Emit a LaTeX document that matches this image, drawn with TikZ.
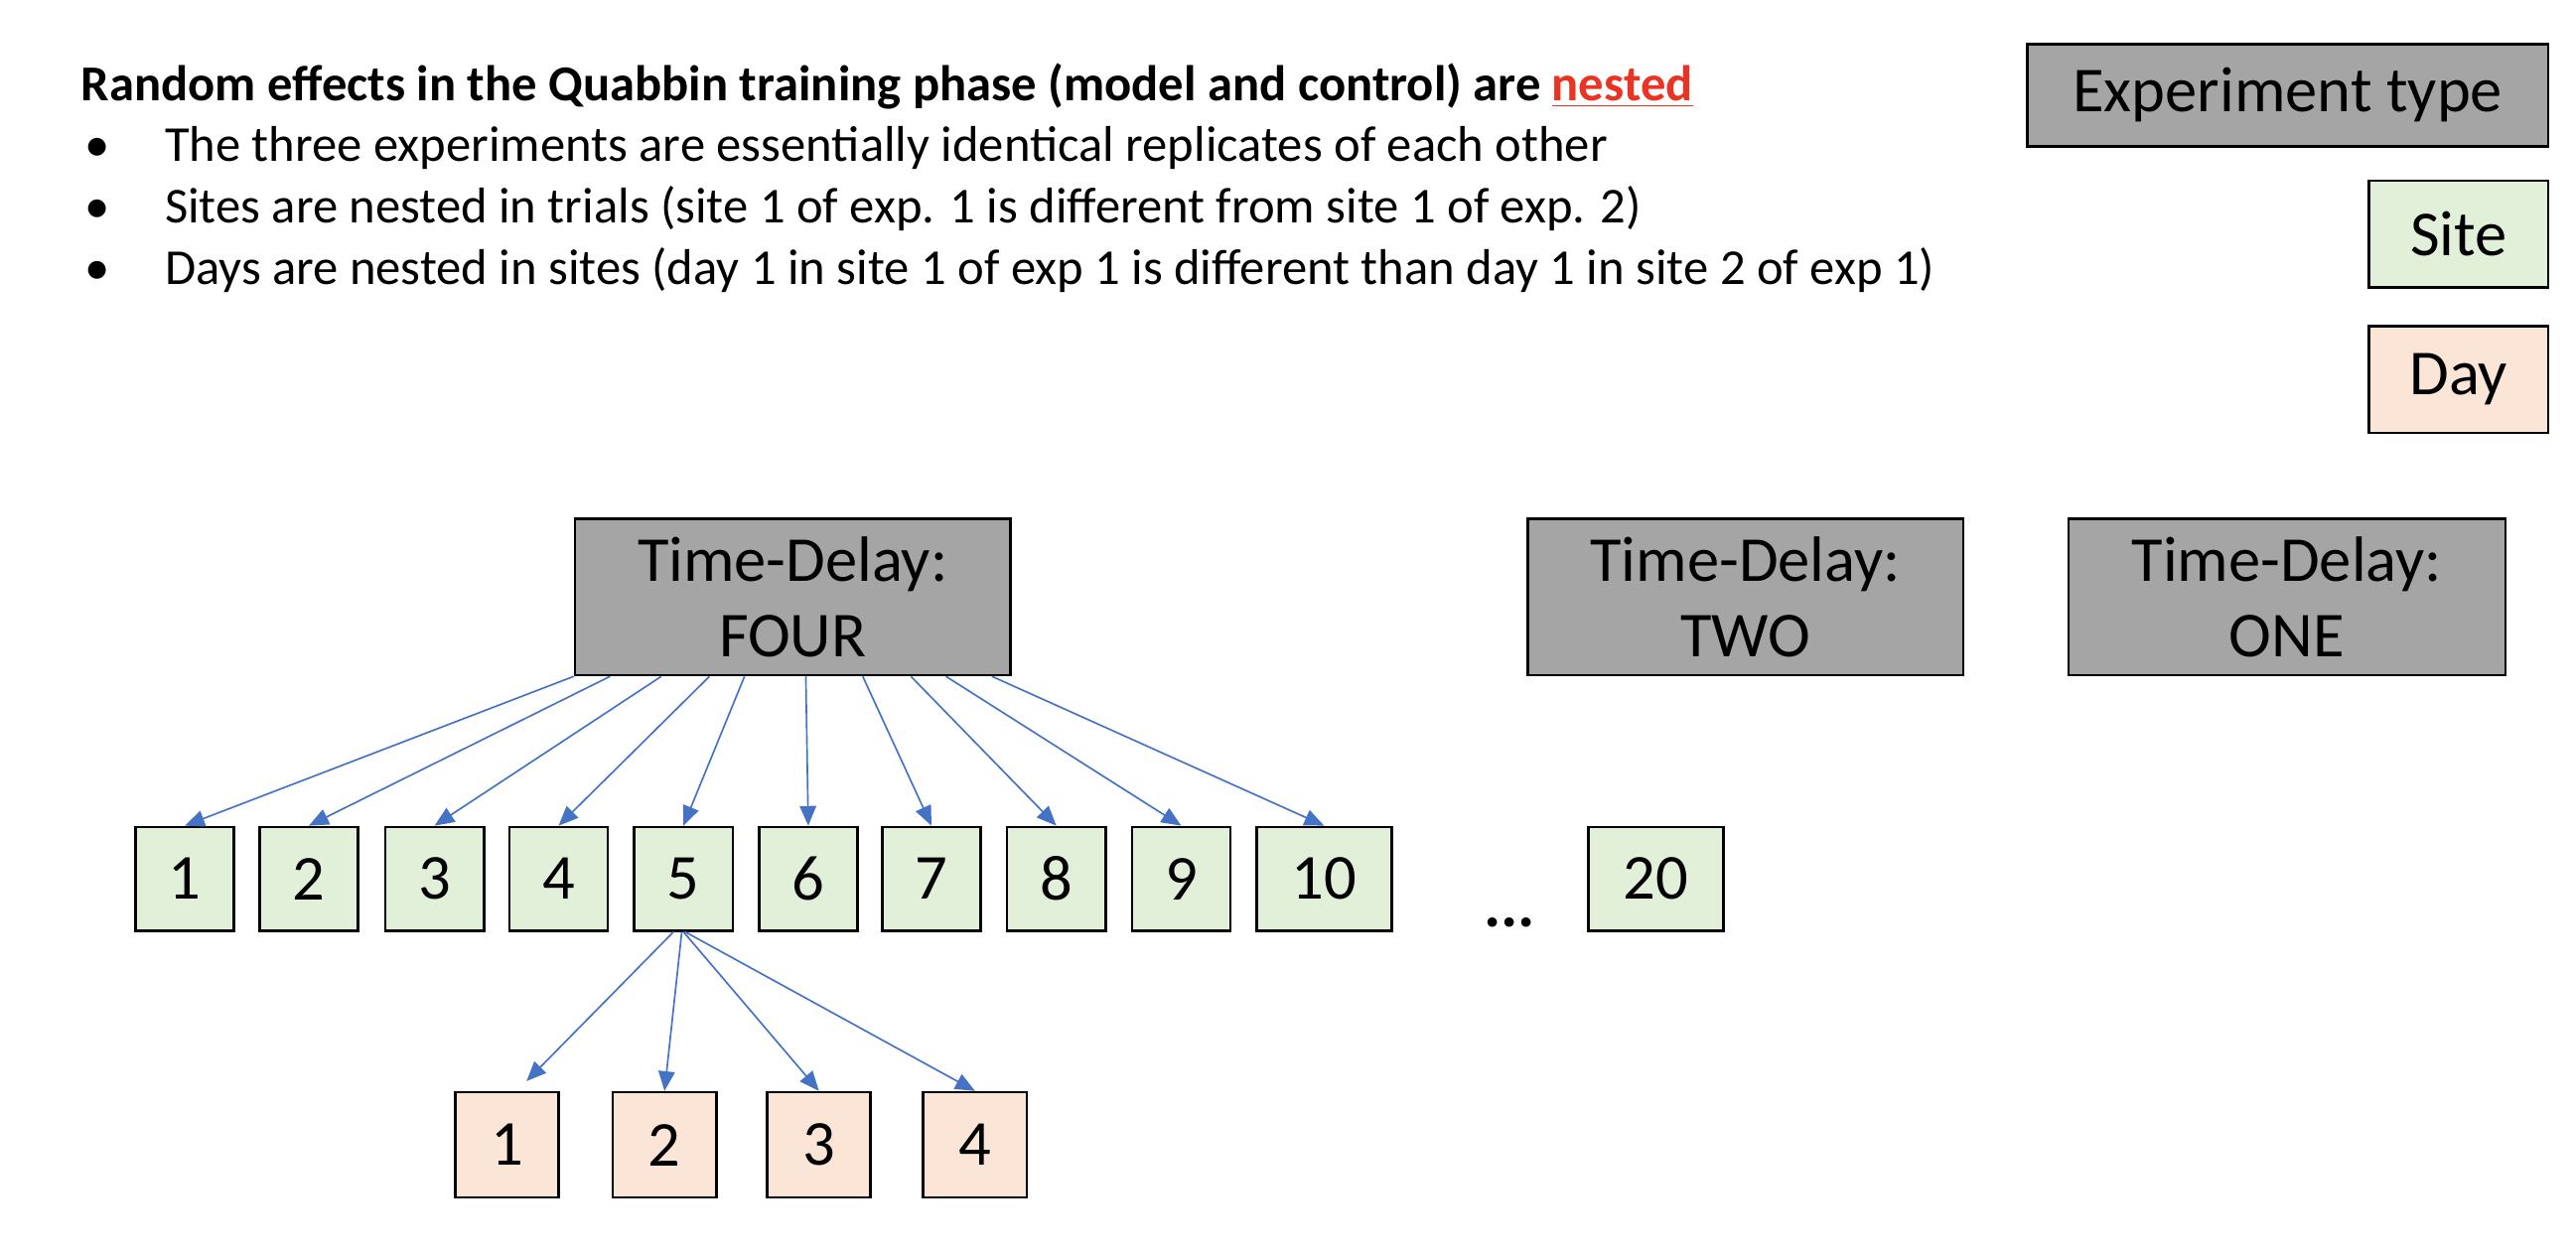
\documentclass[tikz,border=0pt]{standalone}
\usepackage{fontspec}
\setmainfont{Carlito}
\usetikzlibrary{arrows.meta,calc}
\definecolor{expgray}{HTML}{A5A5A5}
\definecolor{sitegreen}{HTML}{E2F0D9}
\definecolor{daypeach}{HTML}{FBE5D6}
\definecolor{nestblue}{HTML}{4472C4}
\definecolor{nestred}{HTML}{EA3323}
\tikzset{
  boxfont/.style={font=\fontsize{19.5}{23}\selectfont},
  expbox/.style={draw=black, line width=0.8pt, fill=expgray, inner sep=0pt, align=center, boxfont},
  sitebox/.style={draw=black, line width=0.8pt, fill=sitegreen, inner sep=0pt, minimum width=30pt, minimum height=31.5pt, boxfont},
  daybox/.style={draw=black, line width=0.8pt, fill=daypeach, inner sep=0pt, minimum width=31.5pt, minimum height=32pt, boxfont},
  nestarrow/.style={-{Triangle[length=6pt,width=5pt]}, draw=nestblue, fill=nestblue, line width=0.5pt},
  textline/.style={anchor=base west, inner sep=0pt, font=\fontsize{15.3}{18}\selectfont}
}
\begin{document}
\begin{tikzpicture}[x=0.5pt,y=-0.5pt]
\useasboundingbox (0,0) rectangle (1568,764);

% the text block
\node[textline] (title) at (49,61.5) {\textbf{Random effects in the Quabbin training phase (model and control) are \textcolor{nestred}{\underline{nested}}}};
\foreach \n/\y/\txt in {1/98.3/{The three experiments are essentially identical replicates of each other},
    2/135.6/{Sites are nested in trials (site 1 of exp. 1 is different from site 1 of exp. 2)},
    3/173/{Days are nested in sites (day 1 in site 1 of exp 1 is different than day 1 in site 2 of exp 1)}}{
  \node[textline] (dot\n) at (51,\y) {•};
  \node[textline] (line\n) at (100,\y) {\txt};
}

% legend
\node[expbox, minimum width=158.5pt, minimum height=31pt] (legexp) at (1392.5,58) {Experiment type};
\node[sitebox, minimum width=54.5pt, minimum height=32.5pt] (legsite) at (1496.5,142.5) {Site};
\node[daybox, minimum width=54.5pt, minimum height=32.5pt] (legday) at (1496.5,231) {Day};

% experiment types
\node[expbox, minimum width=132.5pt, minimum height=47.5pt] (four) at (482.5,363.5) {Time-Delay:\\FOUR};
\node[expbox, minimum width=132.5pt, minimum height=47.5pt] (two) at (1062.5,363.5) {Time-Delay:\\TWO};
\node[expbox, minimum width=133pt, minimum height=47.5pt] (one) at (1392,363.5) {Time-Delay:\\ONE};

% sites
\foreach \s/\x in {1/112.5, 2/188, 3/264.5, 4/340, 5/416, 6/492, 7/567, 8/643, 9/719}{
  \node[sitebox] (s\s) at (\x,535) {\s};
}
\node[sitebox, minimum width=41pt] (s10) at (806,535) {10};
\node[boxfont, anchor=base] (dots) at (919,564) {\textbf{...}};
\node[sitebox, minimum width=41pt] (s20) at (1008,535) {20};

% days
\foreach \d/\x in {1/308.5, 2/404.5, 3/498.5, 4/593.5}{
  \node[daybox] (d\d) at (\x,697) {\d};
}

% arrows
\foreach \t/\s in {0/1, 0.083/2, 0.2/3, 0.31/4, 0.39/5, 0.53/6, 0.66/7, 0.77/8, 0.85/9, 0.955/10}{
  \draw[nestarrow] ($(four.south west)!\t!(four.south east)$) -- (s\s.north);
}
\draw[nestarrow] ($(s5.south)+(-6,0)$) -- ($(d1.north)+(12,-6)$);
\draw[nestarrow] ($(s5.south)+(-1,0)$) -- (d2.north);
\draw[nestarrow] ($(s5.south)+(0,0)$) -- (d3.north);
\draw[nestarrow] ($(s5.south)+(1,0)$) -- (d4.north);
\end{tikzpicture}
\end{document}
